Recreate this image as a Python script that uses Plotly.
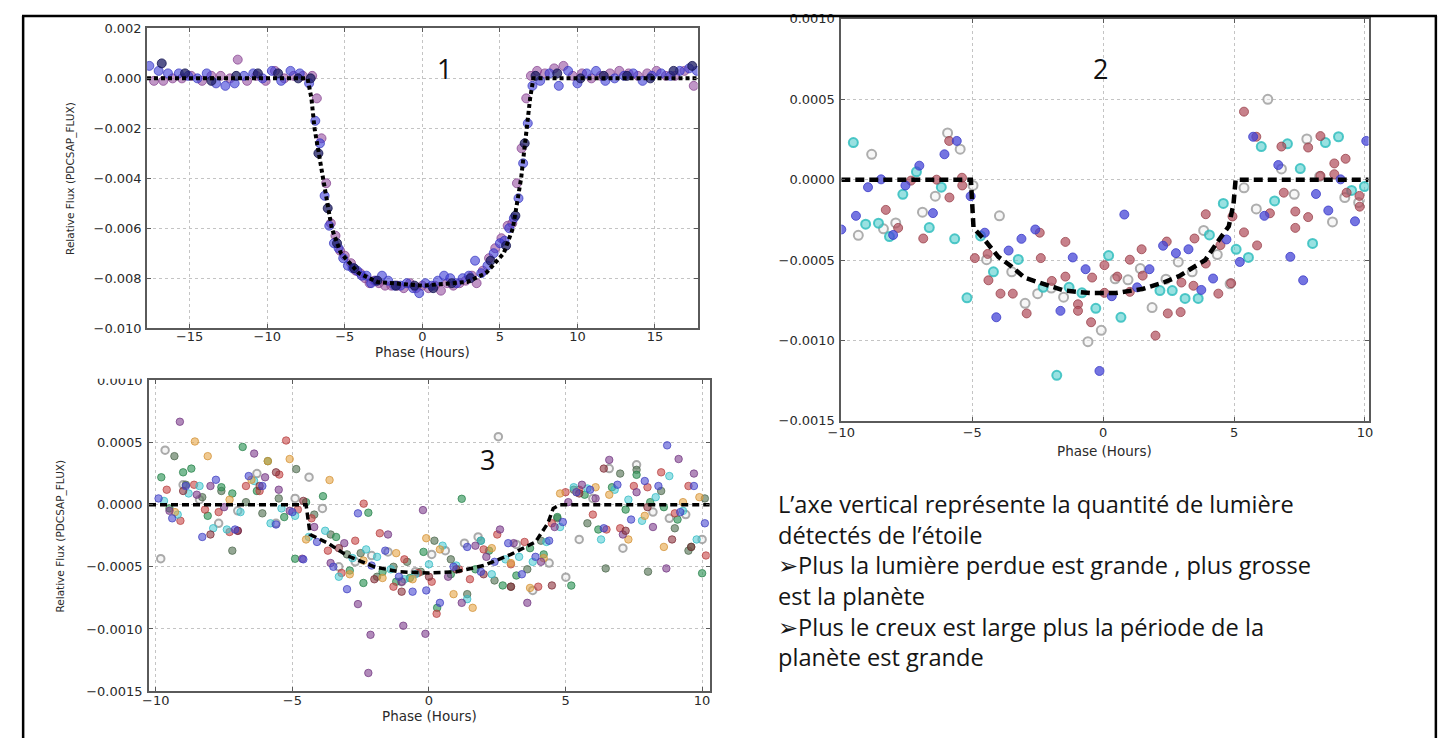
import plotly.graph_objects as go

W, H = 1450, 746          # page (window) size
MARGIN = 8                # default body margin of the html page
FW, FH = W - 2 * MARGIN, H - 2 * MARGIN   # figure size so the page fits exactly

# ---------------- Panel 1 (phase in hours, flux in units of 1e-3) ----------------
p1_blue_x = [-17.6, -17.0, -16.4, -15.7, -15.1, -14.5, -13.9, -13.3, -12.7, -12.1,
             -11.5, -10.9, -10.3, -9.7, -9.1, -8.5, -7.9, -7.3, -6.9, -6.6,
             -6.3, -6.0, -5.7, -5.4, -5.1, -4.8, -4.5, -4.2, -3.9, -3.6,
             -3.3, -3.0, -2.6, -2.2, -1.8, -1.4, -1.0, -0.6, -0.2, 0.2,
             0.6, 1.0, 1.4, 1.8, 2.2, 2.6, 3.0, 3.4, 3.8, 4.2,
             4.6, 5.0, 5.3, 5.6, 5.9, 6.2, 6.5, 6.8, 7.1, 7.6,
             8.2, 8.8, 9.4, 10.0, 10.6, 11.2, 11.8, 12.4, 13.0, 13.6,
             14.2, 14.8, 15.4, 16.0, 16.6, 17.2, 17.7]
p1_blue_y = [0.5, 0.3, 0.2, 0.2, 0.1, 0.0, 0.2, -0.2, -0.3, -0.2,
             0.1, 0.2, 0.0, 0.3, -0.1, 0.3, 0.2, -0.2, -1.7, -2.6,
             -4.7, -5.9, -6.6, -6.8, -7.2, -7.5, -7.6, -7.7, -7.9, -7.9,
             -8.2, -8.1, -7.9, -8.1, -8.3, -8.3, -8.2, -8.4, -8.6, -8.2,
             -8.3, -8.1, -7.9, -8.0, -8.2, -8.0, -7.9, -7.3, -7.8, -7.5,
             -7.0, -6.6, -6.5, -6.0, -5.6, -4.8, -3.4, -1.8, -0.3, -0.1,
             0.2, -0.3, 0.3, -0.2, 0.2, 0.3, -0.1, 0.0, 0.1, 0.2,
             -0.1, 0.1, 0.2, 0.1, 0.3, 0.4, 0.3]
p1_purple_x = [-17.3, -16.7, -16.1, -15.5, -14.9, -14.2, -13.6, -13.0, -12.4, -11.9,
               -11.3, -10.7, -10.1, -9.5, -8.9, -8.3, -7.7, -7.1, -6.8, -6.5,
               -6.2, -5.9, -5.6, -5.3, -5.0, -4.6, -4.3, -4.0, -3.7, -3.4,
               -3.1, -2.8, -2.4, -2.0, -1.6, -1.2, -0.8, -0.4, 0.0, 0.4,
               0.8, 1.2, 1.6, 2.0, 2.4, 2.8, 3.2, 3.5, 3.9, 4.3,
               4.7, 5.1, 5.5, 5.8, 6.1, 6.4, 6.7, 7.0, 7.4, 7.9,
               8.5, 9.1, 9.7, 10.3, 10.9, 11.5, 12.1, 12.7, 13.3, 13.9,
               14.5, 15.1, 15.7, 16.3, 16.9, 17.5]
p1_purple_y = [-0.1, -0.1, 0.0, 0.0, 0.1, -0.1, 0.1, 0.1, 0.0, 0.75,
               -0.1, 0.1, -0.1, 0.3, 0.0, 0.1, 0.1, 0.1, -0.8, -2.4,
               -4.2, -5.8, -6.3, -6.9, -7.1, -7.4, -7.7, -7.8, -8.0, -8.2,
               -8.1, -8.2, -8.3, -8.3, -8.3, -8.4, -8.2, -8.4, -8.3, -8.4,
               -8.3, -8.5, -8.2, -8.3, -8.2, -8.1, -7.9, -8.2, -7.7, -7.2,
               -6.8, -6.4, -5.9, -5.8, -4.2, -2.8, -0.8, 0.1, 0.3, 0.2,
               0.4, 0.5, 0.1, 0.2, 0.0, 0.1, 0.2, 0.3, 0.2, 0.1,
               0.2, 0.3, 0.1, 0.1, 0.3, -0.3]
p1_navy_x = [-16.8, -15.3, -13.6, -12.0, -10.6, -9.3, -8.0, -7.2, -6.7, -6.1,
             -5.5, -4.4, -2.9, -1.7, -0.5, 0.7, 1.9, 3.1, 4.4, 5.4,
             6.0, 6.6, 7.3, 8.7, 10.2, 11.7, 13.2, 14.7, 16.2, 17.4]
p1_navy_y = [0.6, 0.2, -0.1, 0.1, 0.2, 0.2, 0.0, 0.0, -3.0, -5.2,
             -6.6, -7.6, -8.1, -8.3, -8.3, -8.4, -8.2, -8.0, -7.3, -6.7,
             -5.5, -2.6, 0.1, 0.2, 0.0, 0.1, 0.1, 0.0, 0.3, 0.5]
p1_model_x = [-17.75, -7.4, -7.15, -6.95, -6.4, -5.84, -5.25, -4.1, -2.9, 0.0,
              2.9, 4.1, 5.25, 5.84, 6.37, 6.7, 6.95, 7.16, 17.75]
p1_model_y = [0.0, 0.0, -0.8, -2.0, -4.0, -6.0, -7.0, -7.8, -8.15, -8.3,
              -8.15, -7.8, -7.0, -6.0, -4.0, -2.0, -0.8, 0.0, 0.0]

# ---------------- Panel 2 (flux in units of 1e-4) ----------------
p2_blue_x = [-10.0, -9.44, -8.98, -8.48, -8.02, -7.55, -7.02, -6.5, -6.06, -5.59,
             -5.06, -4.52, -4.08, -3.61, -3.12, -2.59, -1.63, -1.16, -0.67, -0.14,
             0.33, 0.81, 1.3, 1.77, 2.29, 2.78, 3.26, 3.75, 4.2, 4.71,
             5.22, 5.73, 6.16, 6.69, 7.15, 7.64, 8.13, 8.6, 9.07, 9.62, 10.05]
p2_blue_y = [-3.1, -2.25, -0.47, 0.02, -3.44, -0.36, 0.87, -2.08, 1.58, 2.41,
             -1.03, -3.3, -8.56, -4.41, -3.68, -3.1, -8.16, -4.84, -5.57, -11.9,
             -7.25, -2.17, -6.7, -5.57, -4.11, -4.57, -4.33, -6.86, -6.15, -3.72,
             -5.12, 2.67, -2.25, 0.91, -4.8, -6.26, -0.89, -1.92, 0.02, -2.59, 2.41]
p2_cyan_x = [-9.54, -9.07, -8.58, -8.16, -7.65, -7.13, -6.64, -6.18, -5.67, -5.2,
             -4.68, -4.19, -3.24, -2.29, -1.3, -0.81, -0.28, 0.21, 0.68, -1.77,
             2.17, 2.64, 3.13, 3.63, 4.06, 4.59, 5.08, 5.55, 6.04, 6.55,
             7.04, 7.53, 8.0, 8.49, 8.99, 9.49, 9.98]
p2_cyan_y = [2.31, -2.77, -2.71, -3.54, -0.91, 0.49, -2.98, -0.47, -3.68, -7.35,
             -3.5, -5.73, -4.96, -6.7, -6.7, -7.04, -8.0, -4.72, -8.56, -12.17,
             -6.9, -6.9, -7.39, -7.39, -3.44, -1.48, -4.33, -4.84, 2.06, -1.32,
             2.23, 0.69, -3.97, 2.31, 2.67, -0.67, -0.43]
p2_red_x = [-8.3, -7.83, -7.34, -6.87, -6.36, -5.87, -5.88, -5.39, -5.38, -4.9,
            -4.41, -4.38, -3.92, -3.45, -2.92, -2.42, -2.38, -1.96, -1.44, -1.44,
            -0.96, -0.96, -0.46, -0.42, 0.05, 0.05, 0.54, 1.02, 1.02, 1.47,
            1.51, 2.0, 2.47, 2.43, 2.96, 2.99, 3.49, 3.45, 3.92, 3.92,
            4.4, 4.48, 4.94, 4.89, 5.38, 5.38, 5.85, 5.88, 6.37, 6.81,
            6.9, 7.34, 7.34, 7.83, 7.83, 8.3, 8.3, 8.83, 8.83, 9.26,
            9.3, 9.79, 9.8]
p2_red_y = [-1.88, -3.0, -0.06, -3.66, 0.0, -1.11, 2.41, 0.12, -0.36, -4.88,
            -4.62, -6.26, -7.09, -7.09, -8.32, -3.3, -4.88, -6.3, -3.87, -6.03,
            -7.75, -8.16, -8.87, -6.09, -5.32, -7.04, -6.03, -4.98, -6.98, -4.33,
            -5.97, -9.7, -8.32, -3.85, -8.24, -6.4, -3.66, -6.6, -2.15, -5.22,
            -7.09, -4.07, -2.29, -6.44, 4.23, -3.28, 2.67, -4.09, -2.09, 2.06,
            -0.81, -1.98, -3.0, 2.0, -2.33, 2.71, 0.24, 1.01, 0.34, 1.3,
            -0.81, -1.01, -1.68]
p2_grey_x = [-9.35, -8.84, -8.39, -7.92, -6.9, -6.41, -5.94, -5.46, -4.97, -4.45,
             -3.96, -3.49, -2.98, -2.5, -1.98, -1.51, -0.58, -0.07, 0.46, 0.95,
             1.42, 1.87, 2.4, 2.87, 3.4, 3.84, 4.36, 4.85, 5.38, 5.85,
             6.29, 6.81, 7.3, 7.78, 8.27, 8.76, 9.23, 9.76]
p2_grey_y = [-3.46, 1.58, -3.06, -2.69, -2.02, -1.03, 2.91, 1.9, -0.36, -4.98,
             -2.25, -5.73, -7.69, -7.09, -6.74, -7.31, -10.08, -9.37, -6.17, -6.23,
             -5.53, -7.96, -6.19, -5.12, -5.73, -3.16, -4.66, -6.48, -0.51, -1.82,
             5.0, 0.67, -0.91, 2.53, 0.2, -2.63, -1.11, -1.42]
p2_model_x = [-10.0, -5.05, -4.95, -4.5, -4.0, -3.5, -3.0, -2.3, -1.5, -0.5,
              0.5, 1.5, 2.3, 2.9, 3.4, 3.9, 4.4, 4.8, 4.98, 5.06, 10.14]
p2_model_y = [0.0, 0.0, -3.0, -3.8, -4.8, -5.4, -6.1, -6.5, -6.9, -7.05,
              -7.05, -6.8, -6.4, -6.0, -5.5, -5.0, -3.8, -2.9, -1.5, 0.0, 0.0]

# ---------------- Panel 3 (flux in units of 1e-4) ----------------
p3_blue_x = [-9.9, -9.4, -8.9, -8.3, -7.8, -7.1, -6.6, -6.1, -5.6, -5.0, -4.6, -4.1, -3.5, -3.0,
             -2.6, -2.1, -1.6, -1.1, -0.6, -0.1, 0.4, 0.9, 1.4, 1.9, 2.4, 2.9, 3.4, 3.9,
             4.4, 4.9, 5.4, 5.9, 6.4, 6.9, 7.4, 7.9, 8.4, 8.72, 9.2, 9.7, 10.1]
p3_blue_y = [0.5, -1.1, 1.5, -2.6, 2.0, -2.0, 2.3, 1.5, -1.6, -0.6, -4.4, -3.0, -5.0, -6.8,
             -0.7, -4.9, -3.7, -5.8, -7.0, -6.9, -7.9, -5.0, -3.4, -5.4, -4.6, -3.1, -5.6, -4.2,
             -2.9, -1.4, 1.0, 1.2, -1.9, 1.6, -1.2, 1.9, 1.5, 4.77, -0.6, 1.5, -1.5]
p3_green_x = [-9.8, -9.5, -9.0, -8.7, -8.1, -7.6, -7.2, -6.82, -6.3, -5.9, -5.3, -4.9, -4.5, -3.88,
              -3.4, -2.9, -2.4, -2.22, -1.7, -1.2, -0.7, -0.2, 0.3, 0.8, 1.2, 1.7, 2.2, 2.7,
              3.2, 3.7, 4.2, 4.7, 5.21, 5.7, 6.2, 6.7, 7.2, 7.6, 8.1, 8.6, 9.1, 9.6, 10.0]
p3_green_y = [2.2, -0.3, 2.6, 2.9, -0.9, 1.4, 0.9, 4.64, 1.1, 3.5, -1.0, -4.35, 0.2, 0.68,
              -2.6, -5.3, -6.3, -0.65, -5.4, -6.2, -5.9, -3.8, -8.3, -5.6, 0.47, -5.2, -3.7, -6.5,
              -5.7, -3.5, -4.0, -1.0, -6.51, 0.8, -2.0, 1.4, -0.4, 2.4, 0.2, -0.2, -1.2, -3.4, -5.52]
p3_red_x = [-9.6, -9.1, -8.6, -8.2, -7.7, -7.3, -6.7, -6.2, -5.48, -5.23, -4.8, -4.3, -3.7, -3.2,
            -2.7, -2.39, -1.8, -1.3, -0.9, -0.4, 0.1, 0.28, 1.1, 1.5, 2.0, 2.5, 3.0, 3.5,
            4.0, 4.5, 5.0, 5.5, 6.0, 6.5, 7.0, 7.5, 8.0, 8.5, 9.0, 9.5, 10.14]
p3_red_y = [1.2, -1.3, 1.6, -0.4, -0.6, -2.2, 1.5, 1.1, 2.42, 5.16, -0.4, -1.1, -3.7, -5.5,
            -2.9, 0.08, -2.3, -6.6, -4.4, -5.5, -6.2, -8.78, -5.2, -6.0, -3.6, -2.4, -4.8, -3.0,
            -6.6, -1.5, 1.0, 1.2, -0.8, -2.0, -1.9, 1.5, 1.4, 2.6, -0.7, 1.5, -4.09]
p3_cyan_x = [-9.7, -9.2, -8.8, -8.4, -7.9, -7.4, -6.9, -6.4, -5.8, -5.4, -4.9, -4.4, -3.8, -3.3,
             -2.8, -2.3, -1.9, -1.4, -0.9, -0.5, 0.0, 0.5, 1.0, 1.4, 1.9, 2.3, 2.8, 3.3,
             3.8, 4.3, 4.8, 5.3, 5.8, 6.3, 6.8, 7.3, 7.8, 8.3, 8.8, 9.3, 9.8]
p3_cyan_y = [0.3, -0.8, 0.9, 1.5, -1.9, -2.0, -0.6, 1.9, -1.5, -0.3, -0.9, -2.6, -2.1, -5.8,
             -4.3, -3.6, -4.2, -5.2, -6.0, -5.6, -4.8, -3.3, -4.9, -7.6, -2.9, -5.6, -4.4, -4.2,
             -4.6, -3.0, -1.8, 1.4, 1.3, -2.8, 1.2, 0.4, -1.3, 0.6, 2.3, -0.5, -2.8]
p3_purple_x = [-9.5, -9.12, -8.5, -8.0, -7.5, -7.0, -6.4, -6.0, -5.5, -5.1, -4.64, -4.2, -3.6, -3.1,
               -2.6, -2.22, -2.14, -1.5, -1.0, -0.94, -0.22, -0.13, 0.7, 1.2, 1.7, 2.1, 2.6, 3.1,
               3.6, 4.1, 4.6, 5.1, 5.6, 6.1, 6.6, 7.1, 7.6, 8.2, 8.69, 9.14, 9.7]
p3_purple_y = [-0.5, 6.67, 0.8, 1.5, -0.2, -2.1, 4.11, 2.2, 1.2, -0.5, -4.35, -1.8, -4.7, -3.1,
               -8.0, -13.54, -10.47, -2.4, -6.2, -9.74, -0.44, -10.39, -5.8, -7.9, -3.3, -4.2, -2.0, -3.1,
               -7.9, -4.6, -1.8, 0.2, 1.6, 0.5, 3.6, -2.4, 1.0, -1.8, -5.13, 3.67, 2.5]
p3_orange_x = [-9.3, -8.57, -8.1, -7.3, -6.5, -5.9, -5.1, -4.5, -3.64, -2.9, -2.4, -1.7, -1.2, -0.6,
               -0.1, 0.4, 0.9, 1.6, 2.3, 3.0, 3.7, 4.2, 4.8, 5.4, 6.1, 6.6, 7.3, 7.9,
               8.6, 9.3, 9.9]
p3_orange_y = [-0.6, 5.08, 3.9, 0.4, 2.0, 3.5, 3.67, -2.8, 1.98, -5.6, -4.5, -5.9, -3.9, -6.0,
               -2.7, -3.6, -7.2, -8.3, -3.5, -4.7, -6.7, -4.3, 0.9, 1.0, 1.4, 0.8, -2.8, -0.9,
               -3.4, 0.2, 0.6]
p3_grey_x = [-9.82, -9.66, -9.0, -8.4, -7.7, -7.0, -6.3, -5.6, -4.9, -4.39, -3.9, -3.3, -2.7, -2.1,
             -1.5, -1.0, -0.5, 0.1, 0.6, 1.3, 1.8, 2.54, 3.2, 3.8, 4.4, 5.01, 5.5, 6.0,
             6.6, 7.1, 7.6, 8.2, 8.8, 9.4, 10.0]
p3_grey_y = [-4.35, 4.38, 1.6, 0.4, -1.5, -0.5, 2.5, -1.5, 0.5, 2.21, -0.3, -5.0, -4.6, -4.1,
             -3.8, -6.2, -5.4, -4.0, -3.7, -3.1, -2.6, 5.47, -3.2, -6.9, -4.7, -5.83, -2.8, 0.5,
             2.9, -3.5, 3.2, -0.6, -1.1, -0.8, -2.8]
p3_olive_x = [-9.32, -8.9, -8.3, -7.6, -7.2, -6.7, -6.1, -5.5, -4.86, -4.2, -3.6, -3.0, -2.5, -1.9,
              -1.3, -0.8, -0.3, 0.2, 0.8, 1.4, 1.9, 2.4, 3.0, 3.6, 4.1, 4.7, 5.3, 5.8,
              6.47, 7.0, 7.6, 8.02, 8.5, 9.0, 9.5, 10.1]
p3_olive_y = [3.9, 1.6, 0.6, 1.1, -3.7, 0.2, -0.7, 0.5, 2.86, -0.8, -2.4, -4.0, -3.9, -5.8,
              -5.0, -4.6, -5.4, -2.9, -4.4, -7.2, -2.9, -6.1, -6.6, -5.2, -2.9, -1.1, 1.2, -1.5,
              -5.13, 2.5, 2.8, -5.39, 1.1, -1.9, -3.7, 0.5]
p3_maroon_x = [-9.0, -8.0, -7.0, -6.2, -5.6, -4.6, -3.3, -2.0, -1.0, 0.0, 1.0, 2.0, 3.0, 4.5,
               5.5, 6.4, 7.2, 8.0, 8.9, 9.6]
p3_maroon_y = [1.1, -2.4, -2.1, 1.5, 2.6, 0.3, -3.5, -6.0, -7.0, -5.8, -5.2, -5.6, -6.6, -6.5,
               0.9, 2.9, -2.1, -0.2, -2.8, -3.4]
p3_model_x = [-10.25, -4.5, -4.35, -3.7, -3.0, -2.0, -1.1, 0.0, 1.0, 2.0, 3.0, 3.9, 4.35, 4.55, 4.8, 10.28]
p3_model_y = [0.0, 0.0, -2.4, -3.1, -4.1, -5.0, -5.4, -5.5, -5.4, -4.9, -4.0, -3.0, -1.5, -0.3, 0.0, 0.0]

# ---------------- text ----------------
panel_numbers = ["1", "2", "3"]
text_lines = [
    "L’axe vertical représente la quantité de lumière",
    "détectés de l’étoile",
    "➢Plus la lumière perdue est grande , plus grosse",
    "est la planète",
    "➢Plus le creux est large plus la période de la",
    "planète est grande",
]
x_title = "Phase (Hours)"
y_title = "Relative Flux (PDCSAP_FLUX)"


def fx(p):
    """page pixel (x) -> figure paper fraction"""
    return (p - MARGIN) / FW


def fy(p):
    """page pixel (y, from top) -> figure paper fraction"""
    return 1 - (p - MARGIN) / FH


fig = go.Figure()


def add_points(xs, ys, scale, fill, edge, axis, size=8, lw=1):
    fig.add_trace(go.Scatter(
        x=xs, y=[v * scale for v in ys], mode="markers",
        marker=dict(size=size, color=fill, line=dict(color=edge, width=lw)),
        xaxis="x" + axis, yaxis="y" + axis, showlegend=False, hoverinfo="skip"))


def add_model(xs, ys, scale, axis, width, dash):
    fig.add_trace(go.Scatter(
        x=xs, y=[v * scale for v in ys], mode="lines",
        line=dict(color="black", width=width, dash=dash),
        xaxis="x" + axis, yaxis="y" + axis, showlegend=False, hoverinfo="skip"))


# Panel 1
add_points(p1_purple_x, p1_purple_y, 1e-3, "rgba(150,80,160,0.6)", "rgba(130,60,140,0.7)", "", 9)
add_points(p1_blue_x, p1_blue_y, 1e-3, "rgba(60,60,215,0.6)", "rgba(50,50,190,0.7)", "", 9)
add_points(p1_navy_x, p1_navy_y, 1e-3, "rgba(30,30,100,0.75)", "rgba(20,20,80,0.8)", "", 9)
add_model(p1_model_x, p1_model_y, 1e-3, "", 4, "4px,3px")

# Panel 2
add_points(p2_grey_x, p2_grey_y, 1e-4, "rgba(240,240,240,0.5)", "rgba(160,160,160,0.85)", "2", 9, 2)
add_points(p2_cyan_x, p2_cyan_y, 1e-4, "rgba(70,200,200,0.55)", "rgba(50,190,190,0.85)", "2", 9, 2)
add_points(p2_red_x, p2_red_y, 1e-4, "rgba(175,75,90,0.7)", "rgba(150,60,70,0.75)", "2", 9)
add_points(p2_blue_x, p2_blue_y, 1e-4, "rgba(70,70,215,0.75)", "rgba(60,60,200,0.8)", "2", 9)
add_model(p2_model_x, p2_model_y, 1e-4, "2", 4.5, "9px,5px")

# Panel 3
p3_series = [
    (p3_grey_x, p3_grey_y, "rgba(235,235,235,0.5)", "rgba(150,150,150,0.8)", 2),
    (p3_olive_x, p3_olive_y, "rgba(90,120,90,0.65)", "rgba(80,105,80,0.75)", 1),
    (p3_green_x, p3_green_y, "rgba(50,150,90,0.65)", "rgba(40,130,75,0.75)", 1),
    (p3_red_x, p3_red_y, "rgba(200,70,70,0.6)", "rgba(180,60,60,0.7)", 1),
    (p3_cyan_x, p3_cyan_y, "rgba(70,200,210,0.55)", "rgba(50,185,195,0.75)", 1),
    (p3_orange_x, p3_orange_y, "rgba(230,165,70,0.6)", "rgba(210,145,55,0.75)", 1),
    (p3_purple_x, p3_purple_y, "rgba(125,60,140,0.6)", "rgba(110,50,125,0.7)", 1),
    (p3_maroon_x, p3_maroon_y, "rgba(140,50,60,0.6)", "rgba(120,40,50,0.7)", 1),
    (p3_blue_x, p3_blue_y, "rgba(75,75,210,0.6)", "rgba(60,60,190,0.7)", 1),
]
for xs, ys, fill, edge, lw in p3_series:
    add_points(xs, ys, 1e-4, fill, edge, "3", 7.5, lw)
add_model(p3_model_x, p3_model_y, 1e-4, "3", 3.5, "7px,4px")

axis_common = dict(
    showline=True, linecolor="#5a5a5a", linewidth=1.6, mirror="ticks",
    ticks="inside", ticklen=4, tickcolor="#5a5a5a", tickwidth=1,
    showgrid=True, gridcolor="#c4c4c4", griddash="dot", gridwidth=1,
    zeroline=False, tickfont=dict(family="DejaVu Sans", size=13, color="#2a2a2a"),
)

fig.update_layout(
    width=FW, height=FH, margin=dict(l=0, r=0, t=0, b=0), autosize=False,
    paper_bgcolor="white", plot_bgcolor="white", showlegend=False,
    xaxis=dict(domain=[fx(134.7), fx(692.7)], range=[-17.75, 17.75], anchor="y",
               tickvals=[-15, -10, -5, 0, 5, 10, 15], ticklabelstandoff=-5, **axis_common),
    yaxis=dict(domain=[fy(327.7), fy(21.7)], range=[-0.010, 0.002], anchor="x",
               tickvals=[-0.010, -0.008, -0.006, -0.004, -0.002, 0.0, 0.002],
               tickformat=".3f", ticklabelstandoff=1, **axis_common),
    xaxis2=dict(domain=[fx(838.3), fx(1372.7)], range=[-10, 10.14], anchor="y2",
                tickvals=[-10, -5, 0, 5, 10], ticklabelstandoff=-1, **axis_common),
    yaxis2=dict(domain=[fy(422.3), fy(12.0)], range=[-0.0015, 0.0010], anchor="x2",
                tickvals=[-0.0015, -0.0010, -0.0005, 0.0, 0.0005, 0.0010],
                tickformat=".4f", ticklabelstandoff=2, **axis_common),
    xaxis3=dict(domain=[fx(136.7), fx(705.0)], range=[-10.25, 10.28], anchor="y3",
                tickvals=[-10, -5, 0, 5, 10], ticklabelstandoff=-4, **axis_common),
    yaxis3=dict(domain=[fy(698.3), fy(381.0)], range=[-0.0015, 0.0010], anchor="x3",
                tickvals=[-0.0015, -0.0010, -0.0005, 0.0, 0.0005, 0.0010],
                tickformat=".4f", ticklabelstandoff=2, **axis_common),
)

ann = []
title_font = dict(family="DejaVu Sans", size=13.5, color="#2a2a2a")
ytitle_font = dict(family="DejaVu Sans", size=10.5, color="#2a2a2a")
for cx, cy in [(413.7, 352.0), (1105.5, 453.5), (421.0, 723.5)]:
    ann.append(dict(x=fx(cx), y=fy(cy), xref="paper", yref="paper", text=x_title,
                    showarrow=False, xanchor="center", yanchor="middle", borderpad=0,
                    font=title_font))
for cx, cy in [(57.0, 175.0), (47.0, 540.0)]:
    ann.append(dict(x=fx(cx), y=fy(cy), xref="paper", yref="paper", text=y_title,
                    textangle=-90, showarrow=False, xanchor="center", yanchor="middle",
                    font=ytitle_font))
num_font = dict(family="Open Sans", size=27, color="#111111")
for label, (cx, cy) in zip(panel_numbers, [(436.0, 63.0), (1101.0, 63.0), (480.0, 462.0)]):
    ann.append(dict(x=fx(cx), y=fy(cy), xref="paper", yref="paper", text=label,
                    showarrow=False, xanchor="center", yanchor="middle", font=num_font))
# explanatory text block, one multi-line annotation
ann.append(dict(x=fx(772.0), y=fy(585.0), xref="paper", yref="paper",
                text="<br>".join(text_lines), align="left",
                showarrow=False, xanchor="left", yanchor="middle",
                font=dict(family="Open Sans", size=23.6, color="#151515")))
fig.update_layout(annotations=ann)

shapes = [
    # slide frame (left, right, top edges; bottom is cut off)
    dict(type="line", xref="paper", yref="paper", x0=0.0008, x1=0.0008, y0=-0.05, y1=0.9985,
         line=dict(color="black", width=2.5)),
    dict(type="line", xref="paper", yref="paper", x0=0.9992, x1=0.9992, y0=-0.05, y1=0.9985,
         line=dict(color="black", width=2.5)),
    dict(type="line", xref="paper", yref="paper", x0=0.0, x1=1.0, y0=0.9985, y1=0.9985,
         line=dict(color="black", width=2.5)),
    # the top of panel 3's highest tick label is cropped in the slide
    dict(type="rect", xref="paper", yref="paper", x0=fx(80), x1=fx(134), y0=fy(379.5), y1=fy(365),
         fillcolor="white", line=dict(width=0), layer="above"),
]
fig.update_layout(shapes=shapes)

fig.write_html("out.html")
